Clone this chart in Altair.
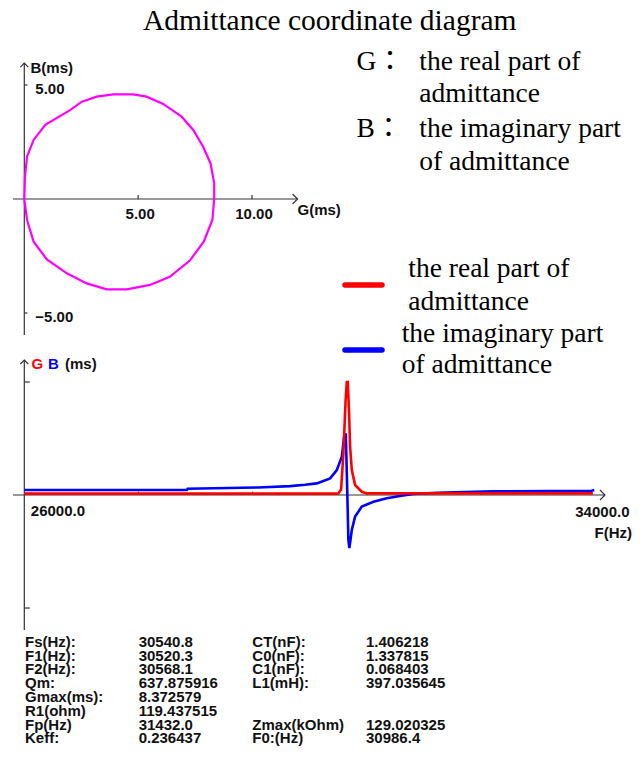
import altair as alt
import pandas as pd

# ---- admittance circle: conductance G and susceptance B (mS) ----
circle_G = [0.00, 0.03, 0.12, 0.41, 0.92, 2.01, 2.53, 3.18, 3.91, 4.79, 5.37, 6.10,
            6.91, 7.42, 7.85, 8.18, 8.34, 8.34, 8.26, 7.88, 7.27, 6.39, 5.52, 4.50,
            3.62, 2.74, 1.87, 0.99, 0.41, 0.12, 0.00]
circle_B = [0.00, 0.98, 1.86, 2.59, 3.25, 3.90, 4.27, 4.49, 4.59, 4.59, 4.49, 4.17,
            3.61, 3.03, 2.30, 1.56, 0.69, 0.00, -0.92, -1.87, -2.70, -3.41, -3.77, -3.96,
            -3.96, -3.70, -3.26, -2.65, -1.87, -0.92, 0.00]

# ---- frequency sweep (Hz) of G and B (mS) ----
sweep_F_G = [26000, 30399, 30441, 30473, 30504, 30521, 30535, 30553, 30567, 30591,
             30637, 30731, 30801, 33970]
sweep_G = [0.10, 0.10, 0.40, 3.10, 7.00, 8.372579, 8.372579, 6.06, 3.57, 1.85,
           0.74, 0.24, 0.12, 0.12]
sweep_F_B = [26000, 28280, 28290, 29278, 29727, 29937, 30101, 30287, 30381, 30451,
             30483, 30507, 30529, 30543, 30557, 30591, 30637, 30731, 30894, 31081,
             31268, 31450, 31782, 32575, 33954, 33990]
sweep_B = [0.37, 0.37, 0.46, 0.56, 0.66, 0.76, 0.86, 1.23, 1.85, 2.83,
           4.31, 4.56, -0.13, -3.33, -3.94, -2.59, -1.60, -0.86, -0.50, -0.24,
           -0.07, 0.07, 0.17, 0.27, 0.32, 0.37]

# ---- axis ticks ----
circle_G_ticks = [5, 10]
circle_B_ticks = [5, -5]
sweep_F_ticks = [27600, 29200, 30800, 32400]
sweep_F_first = [26000]
sweep_F_last = [34000]
Gmax = 8.372579
sweep_V_ticks = [Gmax, -Gmax]

# ---- measured parameters ----
left_names = ["Fs(Hz):", "F1(Hz):", "F2(Hz):", "Qm:", "Gmax(ms):", "R1(ohm)", "Fp(Hz)", "Keff:"]
left_values = ["30540.8", "30520.3", "30568.1", "637.875916", "8.372579", "119.437515",
               "31432.0", "0.236437"]
right_names = ["CT(nF):", "C0(nF):", "C1(nF):", "L1(mH):", "", "", "Zmax(kOhm)", "F0:(Hz)"]
right_values = ["1.406218", "1.337815", "0.068403", "397.035645", "", "", "129.020325",
                "30986.4"]

AXIS = "#333333"
INK = "#111111"
SANS = "Liberation Sans"
SERIF = "Liberation Serif, Noto Sans CJK TC, serif"
SMALL = 15


def S(domain, rng):
    return alt.Scale(domain=domain, range=rng, nice=False, zero=False)


cx = S([0, 10], [24.3, 252])          # circle G
cy = S([-5, 5], [313, 85])            # circle B
fx = S([26000, 34000], [24.3, 595])   # sweep frequency
fy = S([-10, 10], [630, 360])         # sweep G / B

one = pd.DataFrame({"k": [0]})


def xd(v, sc):
    return alt.XDatum(v, type="quantitative", scale=sc, axis=None)


def yd(v, sc):
    return alt.YDatum(v, type="quantitative", scale=sc, axis=None)


def xf(f, sc):
    return alt.X(f, type="quantitative", scale=sc, axis=None)


def yf(f, sc):
    return alt.Y(f, type="quantitative", scale=sc, axis=None)


def hline(x1, x2, y, sx, sy):
    return alt.Chart(one).mark_rule(color=AXIS, strokeWidth=1.2).encode(
        x=xd(x1, sx), x2=alt.X2Datum(x2), y=yd(y, sy))


def vline(x, y1, y2, sx, sy):
    return alt.Chart(one).mark_rule(color=AXIS, strokeWidth=1.2).encode(
        x=xd(x, sx), y=yd(y1, sy), y2=alt.Y2Datum(y2))


def glyph(path, size, x, y, sx, sy):
    return alt.Chart(one).mark_point(shape=path, size=size, filled=False, stroke=AXIS,
                                     strokeWidth=1.2, opacity=1).encode(
        x=xd(x, sx), y=yd(y, sy))


def label(text, x, y, align="left", color=INK, size=SMALL, font=SANS, weight="bold",
          baseline="middle", **kw):
    return alt.Chart(one).mark_text(text=text, x=x, y=y, align=align, baseline=baseline,
                                    color=color, fontSize=size, font=font,
                                    fontWeight=weight, lineBreak="\n", **kw)


def serif(text, x, y, size=27.5, line_height=32):
    return label(text, x, y, size=size, font=SERIF, weight="normal",
                 baseline="alphabetic", color="#000000", lineHeight=line_height)


ARROW_UP = "M-1,1L0,0L1,1"
ARROW_RIGHT = "M-1,-1L0,0L-1,1"
TICK_UP = "M0,0L0,-1"
TICK_RIGHT = "M0,0L1,0"

layers = []

# ---------------- admittance circle ----------------
layers += [
    hline(-0.5, 12.0, 0, cx, cy),
    vline(0, -5.96, 5.96, cx, cy),
    glyph(ARROW_RIGHT, 100, 12.0, 0, cx, cy),
    glyph(ARROW_UP, 64, 0, 5.96, cx, cy),
]
g_ticks = pd.DataFrame({"v": circle_G_ticks})
b_ticks = pd.DataFrame({"v": circle_B_ticks})
layers += [
    alt.Chart(g_ticks).mark_point(shape=TICK_UP, size=64, filled=False, stroke=AXIS,
                                  strokeWidth=1.2, opacity=1).encode(
        x=xf("v", cx), y=yd(0, cy)),
    alt.Chart(b_ticks).mark_point(shape=TICK_RIGHT, size=40, filled=False, stroke=AXIS,
                                  strokeWidth=1.2, opacity=1).encode(
        x=xd(0, cx), y=yf("v", cy)),
    alt.Chart(g_ticks).mark_text(dx=2, dy=15, align="center", baseline="middle",
                                 font=SANS, fontWeight="bold", fontSize=SMALL,
                                 color=INK).encode(
        x=xf("v", cx), y=yd(0, cy), text=alt.Text("v:Q", format=".2f")),
    alt.Chart(b_ticks).mark_text(dx=11, dy=4, align="left", baseline="middle",
                                 font=SANS, fontWeight="bold", fontSize=SMALL,
                                 color=INK).encode(
        x=xd(0, cx), y=yf("v", cy), text=alt.Text("v:Q", format=".2f")),
    label("B(ms)", 30.5, 67.5),
    label("G(ms)", 297.5, 210),
]
circle_df = pd.DataFrame({"G": circle_G, "B": circle_B, "i": range(len(circle_G))})
layers.append(
    alt.Chart(circle_df).mark_line(color="#ff00ff", strokeWidth=2.2).encode(
        x=xf("G", cx), y=yf("B", cy), order="i:Q"))

# ---------------- explanatory text and legend ----------------
layers += [
    serif("Admittance coordinate diagram", 143, 29.5, size=29.5),
    serif("G：", 356.5, 70),
    serif("the real part of\nadmittance", 419.3, 70, line_height=31.7),
    serif("B：", 356.5, 136.7),
    serif("the imaginary part\nof admittance", 419.3, 136.7, line_height=33.3),
    alt.Chart(one).mark_rule(color="#ff0000", strokeWidth=5.5, strokeCap="round").encode(
        x=alt.value(345), x2=alt.value(382), y=alt.value(285)),
    alt.Chart(one).mark_rule(color="#0000ff", strokeWidth=5.5, strokeCap="round").encode(
        x=alt.value(345), x2=alt.value(382), y=alt.value(350)),
    serif("the real part of\nadmittance", 408.3, 276.7, line_height=33.3),
    serif("the imaginary part\nof admittance", 401.7, 341.7, line_height=31.6),
]

# ---------------- frequency sweep ----------------
layers += [
    hline(25842, 34140, 0, fx, fy),
    vline(26000, -10, 10, fx, fy),
    glyph(ARROW_RIGHT, 100, 34140, 0, fx, fy),
    glyph(ARROW_UP, 64, 26000, 10, fx, fy),
]
f_ticks = pd.DataFrame({"v": sweep_F_ticks})
v_ticks = pd.DataFrame({"v": sweep_V_ticks})
layers += [
    alt.Chart(f_ticks).mark_point(shape=TICK_UP, size=44, filled=False, stroke=AXIS,
                                  strokeWidth=1.2, opacity=1).encode(
        x=xf("v", fx), y=yd(0, fy)),
    alt.Chart(v_ticks).mark_point(shape=TICK_RIGHT, size=121, filled=False, stroke=AXIS,
                                  strokeWidth=1.2, opacity=1).encode(
        x=xd(26000, fx), y=yf("v", fy)),
    alt.Chart(pd.DataFrame({"v": sweep_F_first})).mark_text(
        dx=6.5, dy=16, align="left", baseline="middle", font=SANS, fontWeight="bold",
        fontSize=SMALL, color=INK).encode(
        x=xf("v", fx), y=yd(0, fy), text=alt.Text("v:Q", format=".1f")),
    alt.Chart(pd.DataFrame({"v": sweep_F_last})).mark_text(
        dx=34.5, dy=17, align="right", baseline="middle", font=SANS, fontWeight="bold",
        fontSize=SMALL, color=INK).encode(
        x=xf("v", fx), y=yd(0, fy), text=alt.Text("v:Q", format=".1f")),
    label("F(Hz)", 632, 533, align="right"),
    label("G", 31.5, 363.5, color="#ff0000"),
    label("B", 48, 363.5, color="#0000ff"),
    label("(ms)", 65, 363.5),
]
b_df = pd.DataFrame({"F": sweep_F_B, "v": sweep_B})
g_df = pd.DataFrame({"F": sweep_F_G, "v": sweep_G})
layers += [
    alt.Chart(b_df).mark_line(color="#0000ff", strokeWidth=2.6).encode(
        x=xf("F", fx), y=yf("v", fy)),
    alt.Chart(g_df).mark_line(color="#ff0000", strokeWidth=2.6).encode(
        x=xf("F", fx), y=yf("v", fy)),
]

# ---------------- parameter table ----------------
rows = []
for i in range(len(left_names)):
    for col, txt in enumerate([left_names[i], left_values[i], right_names[i], right_values[i]]):
        if txt:
            rows.append({"row": i, "col": col, "txt": txt})
table_df = pd.DataFrame(rows)
layers.append(
    alt.Chart(table_df).mark_text(align="left", baseline="middle", font=SANS,
                                  fontWeight="bold", fontSize=SMALL, color=INK).encode(
        x=xf("col", S([0, 3], [25, 366])),
        y=yf("row", S([0, 7], [641.7, 738.3])),
        text="txt:N"))

chart = (
    alt.layer(*layers)
    .resolve_scale(x="independent", y="independent")
    .properties(width=644, height=771, padding=0,
                autosize=alt.AutoSizeParams(type="none"))
    .configure_view(stroke=None)
)

chart.save("out.html", embed_options={"renderer": "svg", "actions": False})
